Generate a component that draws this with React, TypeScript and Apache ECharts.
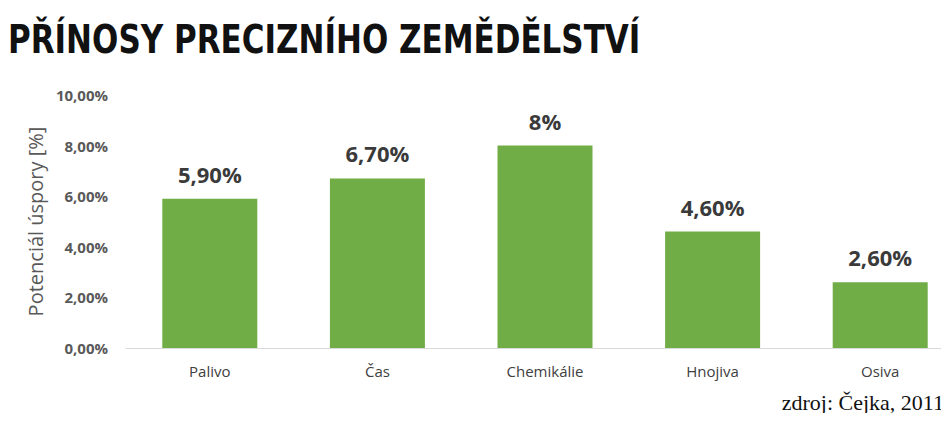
import React, { useEffect, useRef } from "react";
import * as echarts from "echarts";

const categories = ["Palivo", "Čas", "Chemikálie", "Hnojiva", "Osiva"];
const values = [5.9, 6.7, 8, 4.6, 2.6];
const valueLabels = ["5,90%", "6,70%", "8%", "4,60%", "2,60%"];
const yTicks = [0, 2, 4, 6, 8, 10];
const titleText = "PŘÍNOSY PRECIZNÍHO ZEMĚDĚLSTVÍ";
const yAxisName = "Potenciál úspory [%]";
const sourceText = "zdroj: Čejka, 2011";

export default function App() {
  const ref = useRef<HTMLDivElement>(null);
  useEffect(() => {
    if (!ref.current) return;
    const chart = echarts.init(ref.current, undefined, { renderer: "svg" });
    chart.setOption({
      animation: false,
      backgroundColor: "#ffffff",
      graphic: [
        {
          type: "text",
          x: 8,
          y: 20,
          scaleX: 0.795,
          style: {
            text: titleText,
            font: "bold 39px 'DejaVu Sans'",
            fill: "#111111",
            verticalAlign: "top",
          },
        },
        {
          type: "text",
          x: 944,
          y: 391,
          style: {
            text: sourceText,
            font: "22px 'Liberation Serif'",
            fill: "#111111",
            align: "right",
            verticalAlign: "top",
            shadowColor: "rgba(0,0,0,0.35)",
            shadowBlur: 3,
            shadowOffsetX: 1,
            shadowOffsetY: 1,
          },
        },
      ],
      grid: { left: 126, width: 838, top: 95, bottom: 73, outerBoundsMode: "none" },
      xAxis: {
        type: "category",
        data: categories,
        axisLine: { show: true, lineStyle: { color: "#d9d9d9", width: 1 } },
        axisTick: { show: false },
        axisLabel: {
          color: "#404040",
          fontFamily: "Open Sans",
          fontSize: 15,
          margin: 15,
        },
      },
      yAxis: {
        type: "value",
        min: 0,
        max: 10,
        interval: 2,
        name: yAxisName,
        nameLocation: "middle",
        nameRotate: 90,
        nameGap: 80,
        nameTextStyle: { color: "#595959", fontFamily: "Open Sans", fontSize: 20 },
        splitLine: { show: false },
        axisLine: { show: false },
        axisTick: { show: false },
        axisLabel: {
          color: "#595959",
          fontFamily: "Open Sans",
          fontWeight: "bold",
          fontSize: 15,
          margin: 18,
          formatter: (v: number) =>
            yTicks.includes(v) ? v.toFixed(2).replace(".", ",") + "%" : "",
        },
      },
      series: [
        {
          type: "bar",
          data: values,
          barWidth: 95,
          itemStyle: { color: "#70ad47" },
          label: {
            show: true,
            position: "top",
            distance: 14,
            color: "#3a3a3a",
            fontFamily: "Open Sans",
            fontWeight: "bold",
            fontSize: 22,
            formatter: (p: any) => valueLabels[p.dataIndex],
          },
        },
      ],
    });
    return () => chart.dispose();
  }, []);
  return <div ref={ref} style={{ width: 949, height: 421, margin: -8 }} />;
}
